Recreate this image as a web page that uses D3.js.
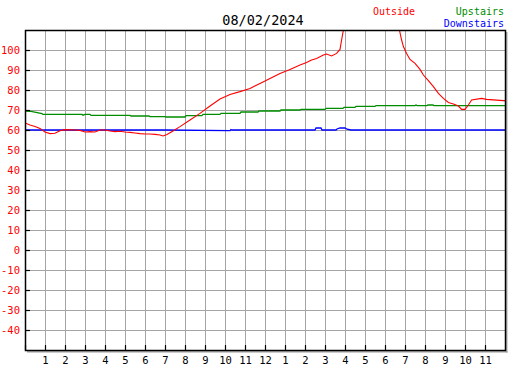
<!DOCTYPE html>
<html><head><meta charset="utf-8">
<script src="https://cdn.jsdelivr.net/npm/d3@7"></script>
<style>
html,body{margin:0;padding:0;background:#fff;}
svg{display:block;}
text{font-family:"DejaVu Sans Mono",monospace;}
</style></head>
<body>
<svg id="c" width="527" height="370"></svg>
<script>
// ---- data ----
const title = "08/02/2024";
const hourTicks = [1,2,3,4,5,6,7,8,9,10,11,12,13,14,15,16,17,18,19,20,21,22,23];
const hourLabels = ["1","2","3","4","5","6","7","8","9","10","11","12","1","2","3","4","5","6","7","8","9","10","11"];
const tempTicks = [100,90,80,70,60,50,40,30,20,10,0,-10,-20,-30,-40];
const gridTemps = [100,90,80,70,60,50,40,30,20,10,0,-10,-20,-30,-40];

const outsideHours = [0,0.25,0.5,0.75,1.0,1.25,1.5,1.75,2.0,2.5,2.75,3.0,3.25,3.5,3.75,4.0,4.25,4.5,4.75,5.0,5.25,5.5,5.75,6.0,6.25,6.5,6.75,6.9,7.1,7.4,7.75,8.25,8.75,9.25,9.75,10.25,10.75,11.25,11.75,12.25,12.75,13.25,13.75,14.08,14.33,14.58,14.92,15.08,15.33,15.58,15.75,15.83,15.92,16.0,17.0,18.0,18.72,18.83,18.92,19.08,19.25,19.5,19.75,19.92,20.17,20.42,20.67,20.92,21.17,21.42,21.67,21.83,22.0,22.17,22.33,22.83,23.08,23.92,24];
const outsideTemps = [63.5,62.5,61.8,60.8,59.0,58.2,58.4,59.6,60.2,60.0,59.8,59.0,59.2,59.0,60.0,60.0,59.5,59.2,59.4,59.0,58.8,58.5,58.2,58.0,58.0,57.8,57.5,57.0,57.8,59.5,61.7,65.0,68.3,72.0,75.5,77.8,79.2,80.8,83.3,85.8,88.3,90.3,92.5,93.7,95.0,95.8,97.5,98.0,97.0,98.3,100.3,105,110,114,120,118,110,105,101.7,98.3,95.3,93.3,90.3,87.5,84.7,81.7,78.3,75.8,73.8,73.0,72.0,70.3,70.3,72.5,75.0,75.8,75.3,74.7,74.7];

const upstairsHours = [0,0.3,0.55,0.85,0.9,2.85,2.9,3.0,3.25,3.3,5.25,5.3,6.2,6.25,7.0,7.05,8.0,8.05,8.85,8.9,9.75,9.8,10.75,10.8,11.65,11.7,12.75,12.8,13.75,13.8,15.0,15.05,15.9,15.95,16.5,16.55,17.5,17.55,19.5,19.55,19.6,20.1,20.15,20.4,20.45,24];
const upstairsTemps = [69.5,69.3,68.8,68.2,67.8,67.8,67.4,67.8,67.8,67.3,67.3,67.0,67.0,66.7,66.7,66.5,66.5,67.2,67.2,67.8,67.8,68.3,68.3,69.0,69.0,69.5,69.5,70.0,70.0,70.3,70.3,70.8,70.8,71.3,71.3,71.8,71.8,72.2,72.2,72.5,72.2,72.2,72.5,72.5,72.2,72.2];

const downstairsHours = [0,7.0,10.25,10.3,10.35,14.5,14.55,14.8,14.85,15.55,15.6,15.75,16.0,16.1,16.3,24];
const downstairsTemps = [60,60,59.7,60.2,60,60,61,61,60,60,60.5,61,61,60.4,60,60];

const legend = [
  {name:"Outside", color:"#ff0000"},
  {name:"Upstairs", color:"#008c00"},
  {name:"Downstairs", color:"#0000ff"}
];

// ---- layout ----
const svg = d3.select("#c");
const L = 25, R = 505, T = 30, B = 350;
const x = d3.scaleLinear().domain([0,24]).range([L,R]);
const y = d3.scaleLinear().domain([-50,110]).range([B,T]);

// grid
const grid = svg.append("g").attr("stroke","#a4a4a4").attr("stroke-width",1).attr("shape-rendering","crispEdges");
grid.selectAll("line.v").data(hourTicks).join("line").attr("class","v")
  .attr("x1",d=>x(d)).attr("x2",d=>x(d)).attr("y1",T).attr("y2",B);
grid.selectAll("line.h").data(gridTemps).join("line").attr("class","h")
  .attr("x1",L).attr("x2",R).attr("y1",d=>y(d)).attr("y2",d=>y(d));

// series
svg.append("clipPath").attr("id","clip").append("rect")
  .attr("x",L).attr("y",T).attr("width",R-L).attr("height",B-T);
const line = d3.line().x(d=>x(d[0])).y(d=>y(d[1]));
const zip = (a,b)=>a.map((h,i)=>[h,b[i]]);
const series = [
  {h:upstairsHours, t:upstairsTemps, c:legend[1].color, w:1.3},
  {h:downstairsHours, t:downstairsTemps, c:legend[2].color, w:1.3},
  {h:outsideHours, t:outsideTemps, c:legend[0].color, w:1.1}
];
const sg = svg.append("g").attr("clip-path","url(#clip)");
series.forEach(s=>{
  sg.append("path").datum(zip(s.h,s.t)).attr("d",line)
    .attr("fill","none").attr("stroke",s.c).attr("stroke-width",s.w);
});

// shadow + frame
svg.append("line").attr("x1",506.8).attr("x2",506.8).attr("y1",T+2).attr("y2",B+2.5).attr("stroke","#999").attr("stroke-width",1.2);
svg.append("line").attr("x1",L+2).attr("x2",R+2.5).attr("y1",351.8).attr("y2",351.8).attr("stroke","#999").attr("stroke-width",1.2);
svg.append("rect").attr("x",L+0.5).attr("y",T+0.5).attr("width",R-L).attr("height",B-T)
  .attr("fill","none").attr("stroke","#000").attr("stroke-width",1.5);

// axes
const yAxis = d3.axisLeft(y).tickValues(tempTicks).tickSizeInner(-5).tickSizeOuter(0).tickPadding(5).tickFormat(d=>String(d));
const ya = svg.append("g").attr("transform",`translate(${L},0)`).call(yAxis);
ya.select(".domain").remove();
ya.selectAll(".tick line").attr("stroke","#000").attr("stroke-width",1.2);
ya.selectAll(".tick text").attr("fill","#ff0000").attr("font-size","10.5px").attr("font-family","DejaVu Sans Mono");

const xAxis = d3.axisBottom(x).tickValues([0].concat(hourTicks)).tickSizeInner(-5).tickSizeOuter(0).tickPadding(7)
  .tickFormat(d=>{const i=hourTicks.indexOf(d); return i<0?"":hourLabels[i];});
const xa = svg.append("g").attr("transform",`translate(0,${B})`).call(xAxis);
xa.select(".domain").remove();
xa.selectAll(".tick line").attr("stroke","#000").attr("stroke-width",1.2);
xa.selectAll(".tick text").attr("fill","#000").attr("font-size","10.5px").attr("font-family","DejaVu Sans Mono");

// title
svg.append("text").attr("x",263).attr("y",25).attr("text-anchor","middle")
  .attr("font-size","13.5px").attr("fill","#000").text(title);

// legend
svg.append("text").attr("x",373).attr("y",15).attr("font-size","10px").attr("fill",legend[0].color).text(legend[0].name);
svg.append("text").attr("x",504).attr("y",15).attr("text-anchor","end").attr("font-size","10px").attr("fill",legend[1].color).text(legend[1].name);
svg.append("text").attr("x",504).attr("y",26.5).attr("text-anchor","end").attr("font-size","10px").attr("fill",legend[2].color).text(legend[2].name);
</script>
</body></html>
